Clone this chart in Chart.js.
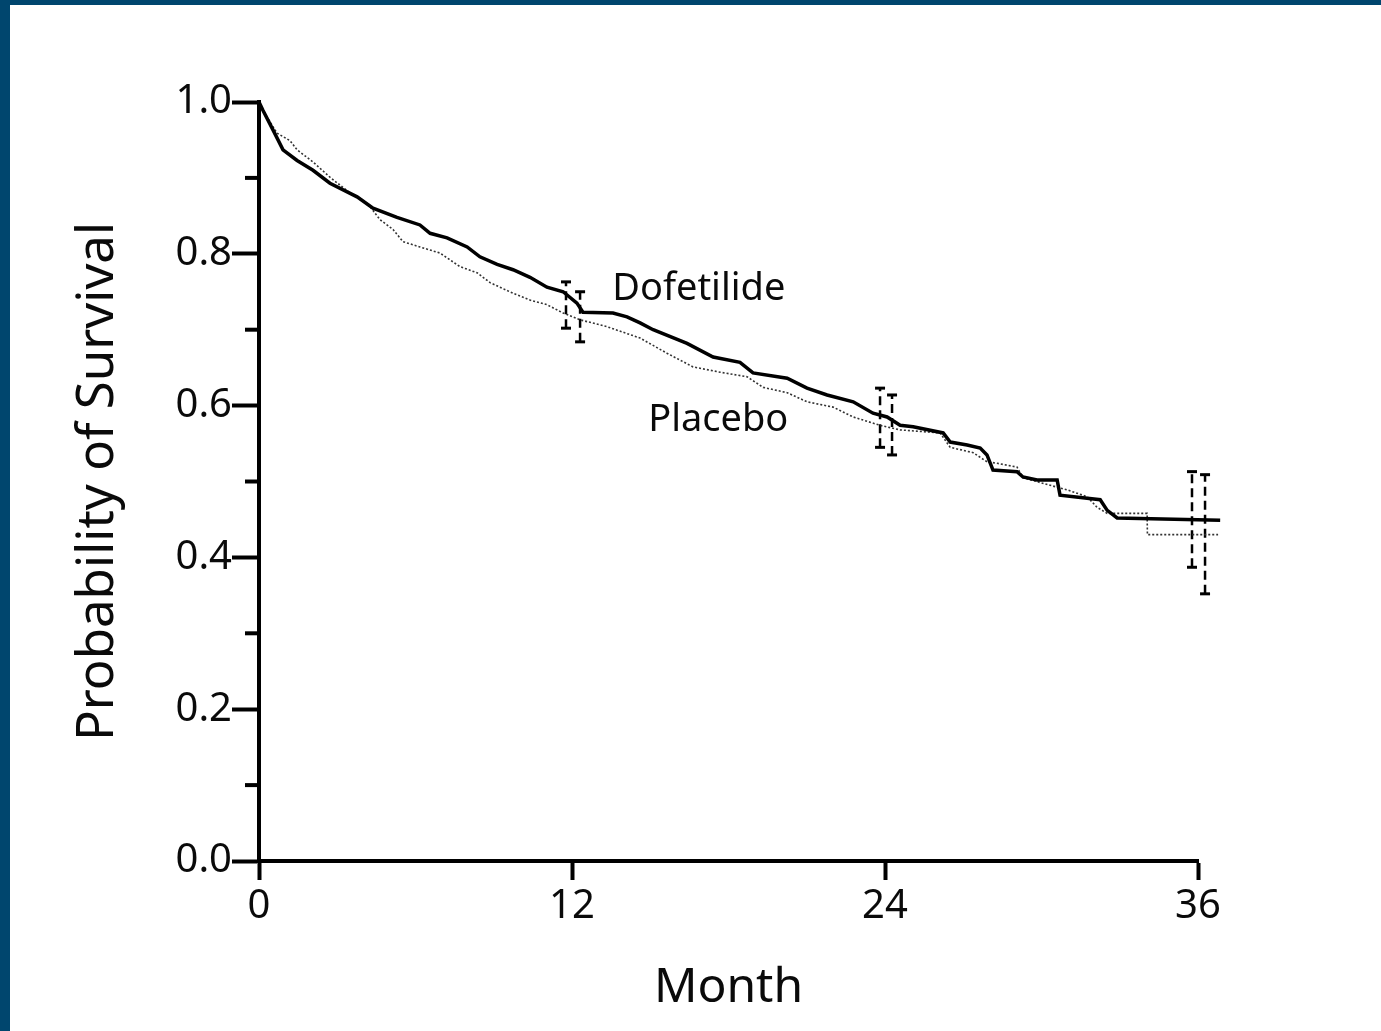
<!DOCTYPE html>
<html>
<head>
<meta charset="utf-8">
<script src="https://cdn.jsdelivr.net/npm/chart.js@4.4.0/dist/chart.umd.min.js"></script>
<style>
  html, body { margin: 0; padding: 0; }
  body { width: 1381px; height: 1031px; background: #00466e; position: relative; overflow: hidden; }
  #wrap { position: absolute; left: 10px; top: 5px; width: 1371px; height: 1026px; background: #fff; }
</style>
</head>
<body>
<div id="wrap"><canvas id="kmChart" width="1371" height="1026"></canvas></div>
<script>
// Kaplan-Meier curves (month, survival)
const dofMonths = [0, 0.15, 0.54, 0.92, 1.46, 2.07, 2.72, 3.76, 4.37, 5.29, 6.17, 6.56, 7.21, 7.98, 8.47, 9.13, 9.74, 10.39, 11.04, 11.66, 12.19, 12.42, 13.57, 14.11, 14.61, 15.11, 16.41, 17.41, 18.44, 18.94, 20.25, 21.01, 21.78, 22.78, 23.54, 24.08, 24.58, 25.08, 26.23, 26.5, 27.15, 27.65, 27.91, 28.14, 29.06, 29.29, 29.83, 30.6, 30.71, 32.25, 32.52, 32.9, 36.85];
const dofSurv = [1.0, 0.989, 0.963, 0.937, 0.923, 0.91, 0.893, 0.875, 0.86, 0.848, 0.838, 0.827, 0.821, 0.809, 0.796, 0.786, 0.779, 0.769, 0.756, 0.75, 0.735, 0.723, 0.722, 0.717, 0.709, 0.7, 0.682, 0.664, 0.657, 0.643, 0.636, 0.623, 0.614, 0.605, 0.59, 0.585, 0.574, 0.572, 0.564, 0.552, 0.548, 0.544, 0.535, 0.515, 0.513, 0.506, 0.502, 0.502, 0.482, 0.476, 0.462, 0.452, 0.449];

const plaMonths = [0, 0.15, 0.69, 1.19, 1.46, 2.07, 2.72, 3.6, 3.87, 4.26, 4.64, 5.14, 5.52, 6.17, 6.94, 7.71, 8.36, 8.86, 9.74, 10.39, 11.04, 11.66, 12.31, 13.34, 14.61, 15.64, 16.64, 17.68, 18.71, 19.33, 20.25, 21.01, 22.01, 22.78, 23.81, 24.58, 26.11, 26.5, 27.38, 27.91, 28.3, 29.06, 29.29, 30.33, 30.98, 31.75, 32.13, 32.52, 34.05, 34.06, 36.77];
const plaSurv = [1.0, 0.989, 0.959, 0.949, 0.937, 0.921, 0.901, 0.877, 0.873, 0.862, 0.845, 0.832, 0.816, 0.809, 0.801, 0.783, 0.775, 0.762, 0.748, 0.739, 0.733, 0.722, 0.713, 0.704, 0.689, 0.669, 0.651, 0.644, 0.638, 0.624, 0.617, 0.605, 0.598, 0.585, 0.574, 0.568, 0.564, 0.545, 0.538, 0.526, 0.524, 0.519, 0.505, 0.495, 0.489, 0.48, 0.466, 0.458, 0.458, 0.43, 0.43];

// 95% confidence bars
const dofCiMonths = [11.77, 23.81, 35.77];
const dofCiLow = [0.702, 0.545, 0.387];
const dofCiHigh = [0.763, 0.623, 0.513];
const plaCiMonths = [12.31, 24.27, 36.27];
const plaCiLow = [0.684, 0.535, 0.352];
const plaCiHigh = [0.75, 0.614, 0.509];

const monthTicks = [0, 12, 24, 36];
const curveNames = ["Dofetilide", "Placebo"];
const nameMonth = [13.54, 14.92];
const nameSurv = [0.754, 0.581];

const FONT = "'Noto Sans', 'Open Sans', sans-serif";

function toPoints(xs, ys) {
  return xs.map((x, i) => ({ x: x, y: ys[i] }));
}

function ciSets(xs, lows, highs, color) {
  return xs.map((x, i) => ({
    data: [{ x: x, y: lows[i] }, { x: x, y: highs[i] }],
    borderColor: color,
    borderWidth: 2.5,
    borderDash: [9, 5],
    pointStyle: "line",
    pointRadius: 5,
    pointBorderWidth: 3,
    pointBorderColor: color,
    clip: false
  }));
}

const minorTicks = {
  id: "minorTicks",
  afterDraw(chart) {
    const { ctx, chartArea, scales } = chart;
    ctx.save();
    ctx.strokeStyle = "#000";
    ctx.lineWidth = 4;
    for (let v = 0.1; v < 1; v += 0.2) {
      const y = scales.y.getPixelForValue(v);
      ctx.beginPath();
      ctx.moveTo(chartArea.left - 14, y);
      ctx.lineTo(chartArea.left, y);
      ctx.stroke();
    }
    ctx.restore();
  }
};

const curveLabels = {
  id: "curveLabels",
  afterDatasetsDraw(chart) {
    const { ctx, scales } = chart;
    ctx.save();
    ctx.fillStyle = "#0a0a0a";
    ctx.font = "38px " + FONT;
    ctx.textAlign = "left";
    ctx.textBaseline = "middle";
    curveNames.forEach((name, i) => {
      ctx.fillText(name, scales.x.getPixelForValue(nameMonth[i]), scales.y.getPixelForValue(nameSurv[i]));
    });
    ctx.restore();
  }
};

new Chart(document.getElementById("kmChart"), {
  type: "line",
  data: {
    datasets: [
      {
        label: "Dofetilide",
        data: toPoints(dofMonths, dofSurv),
        borderColor: "#000",
        borderWidth: 3.5,
        pointRadius: 0,
        clip: false
      },
      {
        label: "Placebo",
        data: toPoints(plaMonths, plaSurv),
        borderColor: "#333",
        borderWidth: 1.6,
        borderDash: [2, 2],
        pointRadius: 0,
        clip: false
      },
      ...ciSets(dofCiMonths, dofCiLow, dofCiHigh, "#000"),
      ...ciSets(plaCiMonths, plaCiLow, plaCiHigh, "#000")
    ]
  },
  options: {
    responsive: false,
    animation: false,
    layout: { padding: { left: 50, right: 183, top: 97, bottom: 0 } },
    plugins: {
      legend: { display: false },
      tooltip: { enabled: false }
    },
    scales: {
      x: {
        type: "linear",
        min: 0,
        max: 36,
        afterFit: (scale) => { scale.height = 170; },
        afterBuildTicks: (scale) => { scale.ticks = monthTicks.map(v => ({ value: v })); },
        grid: { drawOnChartArea: false, tickLength: 19, tickWidth: 4, tickColor: "#000" },
        border: { display: true, width: 4, color: "#000" },
        ticks: { color: "#0a0a0a", padding: 3, font: { family: FONT, size: 40 } },
        title: { display: true, text: "Month", color: "#0a0a0a", font: { family: FONT, size: 48 }, padding: { bottom: 14 } }
      },
      y: {
        min: 0,
        max: 1,
        afterFit: (scale) => { scale.width = 199; },
        grid: { drawOnChartArea: false, tickLength: 27, tickWidth: 4, tickColor: "#000" },
        border: { display: true, width: 4, color: "#000" },
        ticks: { stepSize: 0.2, color: "#0a0a0a", padding: 0, font: { family: FONT, size: 40 }, callback: (v) => v.toFixed(1) },
        title: { display: true, text: "Probability of Survival", color: "#0a0a0a", font: { family: FONT, size: 51 }, padding: { top: 8 } }
      }
    }
  },
  plugins: [minorTicks, curveLabels]
});
</script>
</body>
</html>
